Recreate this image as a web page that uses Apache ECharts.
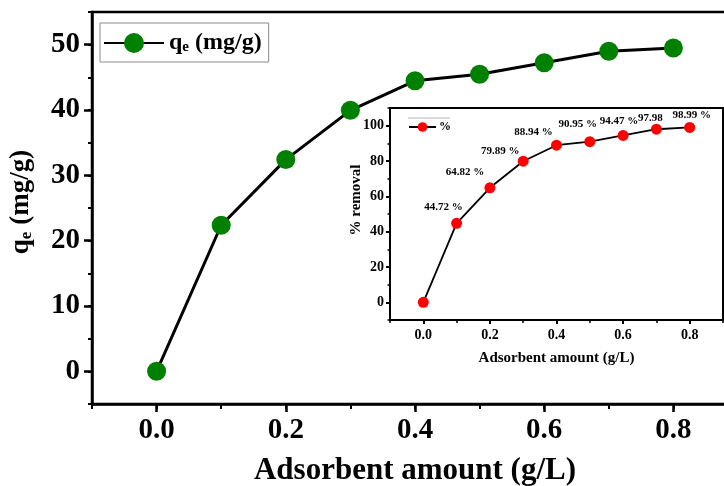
<!DOCTYPE html>
<html>
<head>
<meta charset="utf-8">
<script src="https://cdn.jsdelivr.net/npm/echarts@6/dist/echarts.min.js"></script>
<style>
  html, body { margin: 0; padding: 0; background: #fff; }
  #chart { width: 724px; height: 486px; }
</style>
</head>
<body>
<div id="chart"></div>
<script>
// Adsorbent dose (g/L)
const dose = [0.0, 0.1, 0.2, 0.3, 0.4, 0.5, 0.6, 0.7, 0.8];
// Adsorption capacity q_e (mg/g)
const qe = [0, 22.36, 32.41, 39.95, 44.47, 45.48, 47.24, 48.99, 49.50];
// Removal efficiency (%)
const removal = [0, 44.72, 64.82, 79.89, 88.94, 90.95, 94.47, 97.98, 98.99];
// Unit shown after each removal label
const removalSuffix = ['', ' %', ' %', ' %', ' %', ' %', ' %', '', ' %'];

// Tick label values
const mainXTicks = [0.0, 0.2, 0.4, 0.6, 0.8];
const mainYTicks = [0, 10, 20, 30, 40, 50];
const insetXTicks = [0.0, 0.2, 0.4, 0.6, 0.8];
const insetYTicks = [0, 20, 40, 60, 80, 100];

// Label placement relative to each inset marker
const labelOffsets = [[0, 0], [-13, -16], [-25, -16], [-23, -10], [-23, -13], [-12, -17], [-4, -14], [-6, -11], [2, -12]];

const FONT = "'Liberation Serif', 'Times New Roman', serif";
const black = '#000';

const chart = echarts.init(document.getElementById('chart'));

function majorAxis(grid, min, max, interval, ticks, opts) {
  return Object.assign({
    type: 'value', gridIndex: grid, min: min, max: max, interval: interval,
    splitLine: { show: false },
    axisLine: { show: true, onZero: false, lineStyle: { color: black, width: opts.lineWidth } },
    axisTick: { show: true, inside: false, length: opts.tickLen, customValues: ticks,
                lineStyle: { color: black, width: opts.lineWidth } },
    axisLabel: { show: true, customValues: ticks, margin: opts.margin, color: black,
                 fontFamily: FONT, fontWeight: 'bold', fontSize: opts.fontSize,
                 formatter: opts.formatter },
    position: opts.position
  }, opts.extra || {});
}

function minorAxis(grid, min, max, interval, opts) {
  return {
    type: 'value', gridIndex: grid, min: min, max: max, interval: interval,
    position: opts.position,
    splitLine: { show: false },
    axisLine: { show: false, onZero: false },
    axisTick: { show: true, inside: false, length: opts.tickLen,
                lineStyle: { color: black, width: opts.lineWidth } },
    axisLabel: { show: false }
  };
}

const fmt1 = v => v.toFixed(1);
const fmt0 = v => String(Math.round(v));

const option = {
  backgroundColor: '#fff',
  animation: false,
  grid: [
    { left: 92, top: 12, width: 646, height: 392, show: true, outerBoundsMode: 'none',
      containLabel: false,
      borderColor: black, borderWidth: 2.5, backgroundColor: 'transparent' },
    { left: 390, top: 108, width: 333, height: 212, show: true, outerBoundsMode: 'none',
      containLabel: false,
      borderColor: black, borderWidth: 2, backgroundColor: '#fff', z: 5 }
  ],
  xAxis: [
    majorAxis(0, -0.1, 0.9, 0.1, mainXTicks, {
      lineWidth: 2.5, tickLen: 8, margin: 12, fontSize: 29, formatter: fmt1, position: 'bottom',
      extra: {
        name: 'Adsorbent amount (g/L)', nameLocation: 'middle', nameGap: 51,
        nameTextStyle: { fontFamily: FONT, fontWeight: 'bold', fontSize: 31, color: black }
      }
    }),
    minorAxis(0, -0.1, 0.9, 0.1, { tickLen: 5, lineWidth: 2, position: 'bottom' }),
    majorAxis(1, -0.1, 0.9, 0.1, insetXTicks, {
      lineWidth: 2, tickLen: 4, margin: 8, fontSize: 14, formatter: fmt1, position: 'bottom',
      extra: {
        name: 'Adsorbent amount (g/L)', nameLocation: 'middle', nameGap: 31,
        nameTextStyle: { fontFamily: FONT, fontWeight: 'bold', fontSize: 15, color: black }
      }
    }),
    minorAxis(1, -0.1, 0.9, 0.1, { tickLen: 3, lineWidth: 1.5, position: 'bottom' })
  ],
  yAxis: [
    majorAxis(0, -5, 55, 5, mainYTicks, {
      lineWidth: 2.5, tickLen: 8, margin: 12, fontSize: 29, formatter: fmt0, position: 'left',
      extra: {
        name: '{b|q}{s|e}{b| (mg/g)}', nameLocation: 'middle', nameGap: 57, nameRotate: 90,
        nameTextStyle: {
          color: black, padding: [0, 0, 0, 12],
          rich: {
            b: { fontFamily: FONT, fontWeight: 'bold', fontSize: 27, color: black },
            s: { fontFamily: FONT, fontWeight: 'bold', fontSize: 17, color: black, padding: [10, 0, 0, 0] }
          }
        }
      }
    }),
    minorAxis(0, -5, 55, 5, { tickLen: 4, lineWidth: 2, position: 'left' }),
    majorAxis(1, -10, 110, 10, insetYTicks, {
      lineWidth: 2, tickLen: 4, margin: 6, fontSize: 14, formatter: fmt0, position: 'left',
      extra: {
        name: '% removal', nameLocation: 'middle', nameGap: 26, nameRotate: 90,
        nameMoveOverlap: false,
        nameTextStyle: { fontFamily: FONT, fontWeight: 'bold', fontSize: 15, color: black,
                         padding: [0, 0, 0, 28] }
      }
    }),
    minorAxis(1, -10, 110, 10, { tickLen: 2.5, lineWidth: 1.5, position: 'left' })
  ],
  legend: [
    {
      data: ['qe (mg/g)'], left: 100, top: 23, orient: 'horizontal',
      itemWidth: 60, itemHeight: 25, itemGap: 0,
      padding: [8, 7, 7, 3],
      borderColor: '#8a8a8a', borderWidth: 1,
      formatter: () => '{b|q}{s|e}{b| (mg/g)}',
      textStyle: {
        color: black,
        rich: {
          b: { fontFamily: FONT, fontWeight: 'bold', fontSize: 24, color: black },
          s: { fontFamily: FONT, fontWeight: 'bold', fontSize: 15, color: black, padding: [9, 0, 0, 0] }
        }
      }
    },
    {
      data: ['%'], left: 408, top: 121, itemWidth: 27, itemHeight: 12, padding: 0, itemGap: 0,
      textStyle: { fontFamily: FONT, fontWeight: 'bold', fontSize: 12, color: black, padding: [0, 0, 0, -2] },
      z: 10
    }
  ],
  graphic: [
    { type: 'line', z: 10, shape: { x1: 408, y1: 118, x2: 450, y2: 118 },
      style: { stroke: '#b5b5b5', lineWidth: 1 } }
  ],
  series: [
    {
      name: 'qe (mg/g)', type: 'line', xAxisIndex: 0, yAxisIndex: 0,
      data: dose.map((d, i) => [d, qe[i]]),
      symbol: 'circle', symbolSize: 19,
      itemStyle: { color: '#008000' },
      lineStyle: { color: black, width: 3 },
      z: 3
    },
    {
      name: '%', type: 'line', xAxisIndex: 2, yAxisIndex: 2,
      data: dose.map((d, i) => [d, removal[i]]),
      symbol: 'circle', symbolSize: 11,
      itemStyle: { color: '#ff0000' },
      lineStyle: { color: black, width: 1.8 },
      z: 10,
      label: {
        show: true, position: 'inside',
        fontFamily: FONT, fontWeight: 'bold', fontSize: 11, color: black,
        formatter: p => p.dataIndex === 0 ? '' : p.value[1].toFixed(2) + removalSuffix[p.dataIndex]
      },
      labelLayout: p => ({ dx: labelOffsets[p.dataIndex][0], dy: labelOffsets[p.dataIndex][1] })
    }
  ]
};

chart.setOption(option);
</script>
</body>
</html>
